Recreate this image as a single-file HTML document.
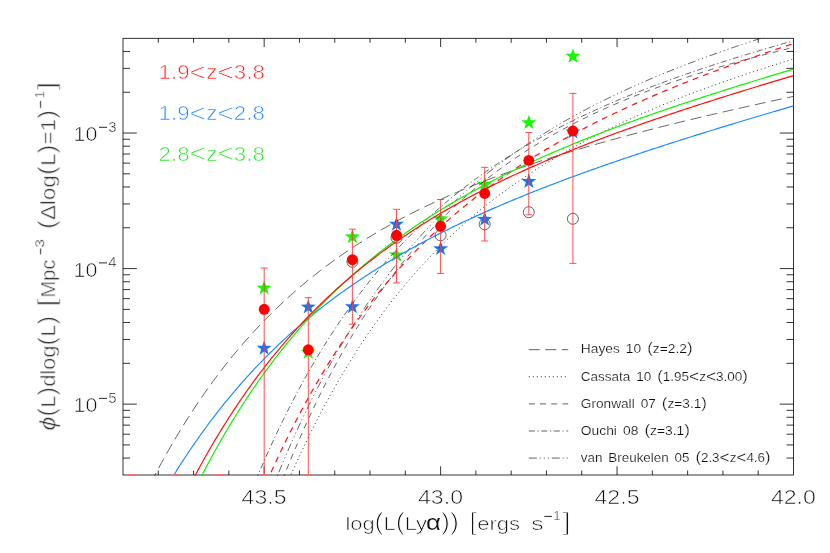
<!DOCTYPE html>
<html><head><meta charset="utf-8"><title>Lya LF</title><style>html,body{margin:0;padding:0;background:#fff}svg{display:block}text{font-family:"Liberation Sans",sans-serif}</style></head><body>
<svg width="830" height="553" viewBox="0 0 830 553">
<defs><clipPath id="c"><rect x="122.50" y="37.80" width="671.50" height="438.10"/></clipPath></defs>
<rect width="830" height="553" fill="#fff"/>
<rect x="123.00" y="38.30" width="670.50" height="436.70" fill="none" stroke="#000" stroke-width="0.8"/>
<path d="M158.29 475.00v-4.50M158.29 38.30v4.50M193.58 475.00v-4.50M193.58 38.30v4.50M228.87 475.00v-4.50M228.87 38.30v4.50M264.16 475.00v-8.70M264.16 38.30v8.70M299.45 475.00v-4.50M299.45 38.30v4.50M334.74 475.00v-4.50M334.74 38.30v4.50M370.03 475.00v-4.50M370.03 38.30v4.50M405.32 475.00v-4.50M405.32 38.30v4.50M440.61 475.00v-8.70M440.61 38.30v8.70M475.89 475.00v-4.50M475.89 38.30v4.50M511.18 475.00v-4.50M511.18 38.30v4.50M546.47 475.00v-4.50M546.47 38.30v4.50M581.76 475.00v-4.50M581.76 38.30v4.50M617.05 475.00v-8.70M617.05 38.30v8.70M652.34 475.00v-4.50M652.34 38.30v4.50M687.63 475.00v-4.50M687.63 38.30v4.50M722.92 475.00v-4.50M722.92 38.30v4.50M758.21 475.00v-4.50M758.21 38.30v4.50M123.00 458.07h7.00M793.50 458.07h-7.00M123.00 444.93h7.00M793.50 444.93h-7.00M123.00 434.20h7.00M793.50 434.20h-7.00M123.00 425.12h7.00M793.50 425.12h-7.00M123.00 417.26h7.00M793.50 417.26h-7.00M123.00 410.33h7.00M793.50 410.33h-7.00M123.00 404.13h13.80M793.50 404.13h-13.80M123.00 363.32h7.00M793.50 363.32h-7.00M123.00 339.46h7.00M793.50 339.46h-7.00M123.00 322.52h7.00M793.50 322.52h-7.00M123.00 309.39h7.00M793.50 309.39h-7.00M123.00 298.65h7.00M793.50 298.65h-7.00M123.00 289.58h7.00M793.50 289.58h-7.00M123.00 281.72h7.00M793.50 281.72h-7.00M123.00 274.79h7.00M793.50 274.79h-7.00M123.00 268.58h13.80M793.50 268.58h-13.80M123.00 227.78h7.00M793.50 227.78h-7.00M123.00 203.91h7.00M793.50 203.91h-7.00M123.00 186.98h7.00M793.50 186.98h-7.00M123.00 173.84h7.00M793.50 173.84h-7.00M123.00 163.11h7.00M793.50 163.11h-7.00M123.00 154.04h7.00M793.50 154.04h-7.00M123.00 146.18h7.00M793.50 146.18h-7.00M123.00 139.24h7.00M793.50 139.24h-7.00M123.00 133.04h13.80M793.50 133.04h-13.80M123.00 92.24h7.00M793.50 92.24h-7.00M123.00 68.37h7.00M793.50 68.37h-7.00M123.00 51.44h7.00M793.50 51.44h-7.00" stroke="#000" stroke-width="0.8" fill="none"/>
<g clip-path="url(#c)">
<circle cx="352.4" cy="261.8" r="5.5" fill="none" stroke="#222" stroke-width="0.7"/>
<circle cx="396.5" cy="237.8" r="5.5" fill="none" stroke="#222" stroke-width="0.7"/>
<circle cx="440.6" cy="235.4" r="5.5" fill="none" stroke="#222" stroke-width="0.7"/>
<circle cx="484.7" cy="224.3" r="5.5" fill="none" stroke="#222" stroke-width="0.7"/>
<circle cx="528.8" cy="212.2" r="5.5" fill="none" stroke="#222" stroke-width="0.7"/>
<circle cx="572.9" cy="218.8" r="5.5" fill="none" stroke="#222" stroke-width="0.7"/>
<polygon points="264.16,280.20 266.02,285.54 271.67,285.66 267.16,289.08 268.80,294.49 264.16,291.26 259.51,294.49 261.15,289.08 256.64,285.66 262.30,285.54" fill="#14f800"/>
<polygon points="308.27,344.40 310.13,349.74 315.78,349.86 311.28,353.28 312.91,358.69 308.27,355.46 303.63,358.69 305.26,353.28 300.76,349.86 306.41,349.74" fill="#14f800"/>
<polygon points="352.38,229.00 354.24,234.34 359.89,234.46 355.39,237.88 357.03,243.29 352.38,240.06 347.74,243.29 349.38,237.88 344.87,234.46 350.52,234.34" fill="#14f800"/>
<polygon points="396.49,247.10 398.35,252.44 404.01,252.56 399.50,255.98 401.14,261.39 396.49,258.16 391.85,261.39 393.49,255.98 388.98,252.56 394.64,252.44" fill="#14f800"/>
<polygon points="440.61,211.00 442.46,216.34 448.12,216.46 443.61,219.88 445.25,225.29 440.61,222.06 435.96,225.29 437.60,219.88 433.09,216.46 438.75,216.34" fill="#14f800"/>
<polygon points="484.72,176.30 486.57,181.64 492.23,181.76 487.72,185.18 489.36,190.59 484.72,187.36 480.07,190.59 481.71,185.18 477.20,181.76 482.86,181.64" fill="#14f800"/>
<polygon points="528.83,114.80 530.69,120.14 536.34,120.26 531.83,123.68 533.47,129.09 528.83,125.86 524.19,129.09 525.82,123.68 521.32,120.26 526.97,120.14" fill="#14f800"/>
<polygon points="572.94,48.40 574.80,53.74 580.45,53.86 575.95,57.28 577.58,62.69 572.94,59.46 568.30,62.69 569.94,57.28 565.43,53.86 571.08,53.74" fill="#14f800"/>
<polygon points="264.16,340.40 266.02,345.74 271.67,345.86 267.16,349.28 268.80,354.69 264.16,351.46 259.51,354.69 261.15,349.28 256.64,345.86 262.30,345.74" fill="#1478f5"/>
<polygon points="308.27,299.20 310.13,304.54 315.78,304.66 311.28,308.08 312.91,313.49 308.27,310.26 303.63,313.49 305.26,308.08 300.76,304.66 306.41,304.54" fill="#1478f5"/>
<polygon points="352.38,298.90 354.24,304.24 359.89,304.36 355.39,307.78 357.03,313.19 352.38,309.96 347.74,313.19 349.38,307.78 344.87,304.36 350.52,304.24" fill="#1478f5"/>
<polygon points="396.49,216.40 398.35,221.74 404.01,221.86 399.50,225.28 401.14,230.69 396.49,227.46 391.85,230.69 393.49,225.28 388.98,221.86 394.64,221.74" fill="#1478f5"/>
<polygon points="440.61,240.80 442.46,246.14 448.12,246.26 443.61,249.68 445.25,255.09 440.61,251.86 435.96,255.09 437.60,249.68 433.09,246.26 438.75,246.14" fill="#1478f5"/>
<polygon points="484.72,211.50 486.57,216.84 492.23,216.96 487.72,220.38 489.36,225.79 484.72,222.56 480.07,225.79 481.71,220.38 477.20,216.96 482.86,216.84" fill="#1478f5"/>
<polygon points="528.83,173.60 530.69,178.94 536.34,179.06 531.83,182.48 533.47,187.89 528.83,184.66 524.19,187.89 525.82,182.48 521.32,179.06 526.97,178.94" fill="#1478f5"/>
<polygon points="572.94,124.10 574.80,129.44 580.45,129.56 575.95,132.98 577.58,138.39 572.94,135.16 568.30,138.39 569.94,132.98 565.43,129.56 571.08,129.44" fill="#1478f5"/>
</g>
<g clip-path="url(#c)" fill="none">
<path d="M136.41 512.35 L138.09 508.81 L139.76 505.31 L141.44 501.84 L143.12 498.40 L144.79 495.00 L146.47 491.63 L148.14 488.30 L149.82 485.00 L151.50 481.73 L153.17 478.49 L154.85 475.28 L156.52 472.11 L158.20 468.97 L159.88 465.85 L161.55 462.77 L163.23 459.72 L164.91 456.70 L166.58 453.71 L168.26 450.74 L169.94 447.81 L171.61 444.90 L173.29 442.02 L174.96 439.17 L176.64 436.35 L178.32 433.56 L179.99 430.79 L181.67 428.05 L183.34 425.33 L185.02 422.64 L186.70 419.98 L188.37 417.34 L190.05 414.73 L191.73 412.14 L193.40 409.58 L195.08 407.04 L196.76 404.53 L198.43 402.04 L200.11 399.57 L201.78 397.13 L203.46 394.71 L205.14 392.31 L206.81 389.94 L208.49 387.58 L210.17 385.25 L211.84 382.95 L213.52 380.66 L215.19 378.39 L216.87 376.15 L218.55 373.93 L220.22 371.73 L221.90 369.54 L223.57 367.38 L225.25 365.24 L226.93 363.12 L228.60 361.02 L230.28 358.94 L231.96 356.87 L233.63 354.83 L235.31 352.81 L236.99 350.80 L238.66 348.81 L240.34 346.84 L242.01 344.89 L243.69 342.96 L245.37 341.04 L247.04 339.14 L248.72 337.26 L250.39 335.39 L252.07 333.55 L253.75 331.71 L255.42 329.90 L257.10 328.10 L258.78 326.32 L260.45 324.55 L262.13 322.80 L263.81 321.07 L265.48 319.35 L267.16 317.64 L268.83 315.95 L270.51 314.28 L272.19 312.62 L273.86 310.97 L275.54 309.34 L277.21 307.73 L278.89 306.13 L280.57 304.54 L282.24 302.96 L283.92 301.40 L285.60 299.86 L287.27 298.32 L288.95 296.80 L290.63 295.30 L292.30 293.80 L293.98 292.32 L295.65 290.85 L297.33 289.40 L299.01 287.95 L300.68 286.52 L302.36 285.10 L304.03 283.69 L305.71 282.30 L307.39 280.91 L309.06 279.54 L310.74 278.18 L312.42 276.83 L314.09 275.49 L315.77 274.17 L317.45 272.85 L319.12 271.55 L320.80 270.25 L322.47 268.97 L324.15 267.70 L325.83 266.43 L327.50 265.18 L329.18 263.94 L330.85 262.71 L332.53 261.49 L334.21 260.27 L335.88 259.07 L337.56 257.88 L339.24 256.69 L340.91 255.52 L342.59 254.36 L344.27 253.20 L345.94 252.06 L347.62 250.92 L349.29 249.79 L350.97 248.67 L352.65 247.56 L354.32 246.46 L356.00 245.37 L357.67 244.28 L359.35 243.20 L361.03 242.14 L362.70 241.08 L364.38 240.02 L366.06 238.98 L367.73 237.94 L369.41 236.92 L371.09 235.90 L372.76 234.88 L374.44 233.88 L376.11 232.88 L377.79 231.89 L379.47 230.91 L381.14 229.93 L382.82 228.96 L384.50 228.00 L386.17 227.05 L387.85 226.10 L389.52 225.16 L391.20 224.23 L392.88 223.30 L394.55 222.38 L396.23 221.46 L397.90 220.56 L399.58 219.66 L401.26 218.76 L402.93 217.87 L404.61 216.99 L406.29 216.12 L407.96 215.25 L409.64 214.38 L411.32 213.52 L412.99 212.67 L414.67 211.83 L416.34 210.99 L418.02 210.15 L419.70 209.32 L421.37 208.50 L423.05 207.68 L424.72 206.87 L426.40 206.06 L428.08 205.26 L429.75 204.47 L431.43 203.67 L433.11 202.89 L434.78 202.11 L436.46 201.33 L438.14 200.56 L439.81 199.80 L441.49 199.04 L443.16 198.28 L444.84 197.53 L446.52 196.78 L448.19 196.04 L449.87 195.30 L451.54 194.57 L453.22 193.84 L454.90 193.12 L456.57 192.40 L458.25 191.69 L459.93 190.98 L461.60 190.27 L463.28 189.57 L464.96 188.87 L466.63 188.18 L468.31 187.49 L469.98 186.80 L471.66 186.12 L473.34 185.44 L475.01 184.77 L476.69 184.10 L478.36 183.44 L480.04 182.77 L481.72 182.12 L483.39 181.46 L485.07 180.81 L486.75 180.16 L488.42 179.52 L490.10 178.88 L491.78 178.25 L493.45 177.61 L495.13 176.98 L496.80 176.36 L498.48 175.73 L500.16 175.12 L501.83 174.50 L503.51 173.89 L505.18 173.28 L506.86 172.67 L508.54 172.07 L510.21 171.47 L511.89 170.87 L513.57 170.28 L515.24 169.69 L516.92 169.10 L518.60 168.52 L520.27 167.93 L521.95 167.35 L523.62 166.78 L525.30 166.21 L526.98 165.64 L528.65 165.07 L530.33 164.50 L532.00 163.94 L533.68 163.38 L535.36 162.82 L537.03 162.27 L538.71 161.72 L540.39 161.17 L542.06 160.62 L543.74 160.08 L545.41 159.54 L547.09 159.00 L548.77 158.46 L550.44 157.93 L552.12 157.40 L553.80 156.87 L555.47 156.34 L557.15 155.81 L558.83 155.29 L560.50 154.77 L562.18 154.25 L563.85 153.74 L565.53 153.22 L567.21 152.71 L568.88 152.20 L570.56 151.70 L572.23 151.19 L573.91 150.69 L575.59 150.19 L577.26 149.69 L578.94 149.19 L580.62 148.69 L582.29 148.20 L583.97 147.71 L585.65 147.22 L587.32 146.73 L589.00 146.25 L590.67 145.76 L592.35 145.28 L594.03 144.80 L595.70 144.32 L597.38 143.85 L599.05 143.37 L600.73 142.90 L602.41 142.43 L604.08 141.96 L605.76 141.49 L607.44 141.02 L609.11 140.56 L610.79 140.10 L612.47 139.64 L614.14 139.18 L615.82 138.72 L617.49 138.26 L619.17 137.81 L620.85 137.35 L622.52 136.90 L624.20 136.45 L625.87 136.00 L627.55 135.55 L629.23 135.11 L630.90 134.66 L632.58 134.22 L634.26 133.78 L635.93 133.33 L637.61 132.90 L639.29 132.46 L640.96 132.02 L642.64 131.59 L644.31 131.15 L645.99 130.72 L647.67 130.29 L649.34 129.86 L651.02 129.43 L652.69 129.00 L654.37 128.57 L656.05 128.15 L657.72 127.72 L659.40 127.30 L661.08 126.88 L662.75 126.46 L664.43 126.04 L666.11 125.62 L667.78 125.20 L669.46 124.79 L671.13 124.37 L672.81 123.96 L674.49 123.55 L676.16 123.13 L677.84 122.72 L679.51 122.31 L681.19 121.91 L682.87 121.50 L684.54 121.09 L686.22 120.69 L687.90 120.28 L689.57 119.88 L691.25 119.47 L692.93 119.07 L694.60 118.67 L696.28 118.27 L697.95 117.87 L699.63 117.47 L701.31 117.08 L702.98 116.68 L704.66 116.29 L706.34 115.89 L708.01 115.50 L709.69 115.10 L711.36 114.71 L713.04 114.32 L714.72 113.93 L716.39 113.54 L718.07 113.15 L719.74 112.76 L721.42 112.38 L723.10 111.99 L724.77 111.61 L726.45 111.22 L728.13 110.84 L729.80 110.45 L731.48 110.07 L733.16 109.69 L734.83 109.31 L736.51 108.93 L738.18 108.55 L739.86 108.17 L741.54 107.79 L743.21 107.41 L744.89 107.04 L746.56 106.66 L748.24 106.28 L749.92 105.91 L751.59 105.53 L753.27 105.16 L754.95 104.79 L756.62 104.42 L758.30 104.04 L759.98 103.67 L761.65 103.30 L763.33 102.93 L765.00 102.56 L766.68 102.19 L768.36 101.82 L770.03 101.46 L771.71 101.09 L773.38 100.72 L775.06 100.36 L776.74 99.99 L778.41 99.63 L780.09 99.26 L781.77 98.90 L783.44 98.54 L785.12 98.17 L786.80 97.81 L788.47 97.45 L790.15 97.09 L791.82 96.73 L793.50 96.37 " stroke="#202020" stroke-width="0.7" stroke-dasharray="11 5.5"/>
<path d="M275.54 511.41 L277.21 507.28 L278.89 503.18 L280.57 499.12 L282.24 495.11 L283.92 491.13 L285.60 487.19 L287.27 483.29 L288.95 479.43 L290.63 475.61 L292.30 471.83 L293.98 468.08 L295.65 464.36 L297.33 460.69 L299.01 457.05 L300.68 453.44 L302.36 449.87 L304.03 446.34 L305.71 442.84 L307.39 439.37 L309.06 435.94 L310.74 432.54 L312.42 429.17 L314.09 425.83 L315.77 422.53 L317.45 419.26 L319.12 416.02 L320.80 412.81 L322.47 409.63 L324.15 406.49 L325.83 403.37 L327.50 400.28 L329.18 397.22 L330.85 394.19 L332.53 391.19 L334.21 388.22 L335.88 385.27 L337.56 382.36 L339.24 379.47 L340.91 376.61 L342.59 373.77 L344.27 370.96 L345.94 368.18 L347.62 365.43 L349.29 362.70 L350.97 359.99 L352.65 357.31 L354.32 354.66 L356.00 352.03 L357.67 349.42 L359.35 346.84 L361.03 344.28 L362.70 341.75 L364.38 339.24 L366.06 336.75 L367.73 334.29 L369.41 331.85 L371.09 329.43 L372.76 327.03 L374.44 324.66 L376.11 322.30 L377.79 319.97 L379.47 317.66 L381.14 315.37 L382.82 313.10 L384.50 310.85 L386.17 308.62 L387.85 306.41 L389.52 304.22 L391.20 302.05 L392.88 299.90 L394.55 297.77 L396.23 295.66 L397.90 293.57 L399.58 291.49 L401.26 289.44 L402.93 287.40 L404.61 285.38 L406.29 283.38 L407.96 281.39 L409.64 279.43 L411.32 277.48 L412.99 275.54 L414.67 273.63 L416.34 271.73 L418.02 269.84 L419.70 267.98 L421.37 266.13 L423.05 264.29 L424.72 262.47 L426.40 260.67 L428.08 258.88 L429.75 257.11 L431.43 255.35 L433.11 253.61 L434.78 251.88 L436.46 250.17 L438.14 248.47 L439.81 246.78 L441.49 245.11 L443.16 243.46 L444.84 241.81 L446.52 240.19 L448.19 238.57 L449.87 236.97 L451.54 235.38 L453.22 233.80 L454.90 232.24 L456.57 230.69 L458.25 229.15 L459.93 227.63 L461.60 226.11 L463.28 224.61 L464.96 223.13 L466.63 221.65 L468.31 220.19 L469.98 218.73 L471.66 217.29 L473.34 215.86 L475.01 214.44 L476.69 213.04 L478.36 211.64 L480.04 210.26 L481.72 208.88 L483.39 207.52 L485.07 206.17 L486.75 204.82 L488.42 203.49 L490.10 202.17 L491.78 200.86 L493.45 199.56 L495.13 198.27 L496.80 196.99 L498.48 195.71 L500.16 194.45 L501.83 193.20 L503.51 191.96 L505.18 190.72 L506.86 189.50 L508.54 188.28 L510.21 187.08 L511.89 185.88 L513.57 184.69 L515.24 183.51 L516.92 182.34 L518.60 181.17 L520.27 180.02 L521.95 178.87 L523.62 177.74 L525.30 176.61 L526.98 175.49 L528.65 174.37 L530.33 173.27 L532.00 172.17 L533.68 171.08 L535.36 170.00 L537.03 168.92 L538.71 167.85 L540.39 166.79 L542.06 165.74 L543.74 164.70 L545.41 163.66 L547.09 162.63 L548.77 161.60 L550.44 160.59 L552.12 159.58 L553.80 158.57 L555.47 157.58 L557.15 156.59 L558.83 155.60 L560.50 154.63 L562.18 153.65 L563.85 152.69 L565.53 151.73 L567.21 150.78 L568.88 149.83 L570.56 148.90 L572.23 147.96 L573.91 147.03 L575.59 146.11 L577.26 145.20 L578.94 144.29 L580.62 143.38 L582.29 142.48 L583.97 141.59 L585.65 140.70 L587.32 139.82 L589.00 138.94 L590.67 138.07 L592.35 137.21 L594.03 136.35 L595.70 135.49 L597.38 134.64 L599.05 133.79 L600.73 132.95 L602.41 132.12 L604.08 131.29 L605.76 130.46 L607.44 129.64 L609.11 128.82 L610.79 128.01 L612.47 127.20 L614.14 126.40 L615.82 125.60 L617.49 124.81 L619.17 124.02 L620.85 123.23 L622.52 122.45 L624.20 121.68 L625.87 120.91 L627.55 120.14 L629.23 119.38 L630.90 118.62 L632.58 117.86 L634.26 117.11 L635.93 116.36 L637.61 115.62 L639.29 114.88 L640.96 114.14 L642.64 113.41 L644.31 112.68 L645.99 111.96 L647.67 111.24 L649.34 110.52 L651.02 109.81 L652.69 109.10 L654.37 108.39 L656.05 107.69 L657.72 106.99 L659.40 106.29 L661.08 105.60 L662.75 104.91 L664.43 104.22 L666.11 103.54 L667.78 102.86 L669.46 102.18 L671.13 101.51 L672.81 100.84 L674.49 100.17 L676.16 99.51 L677.84 98.85 L679.51 98.19 L681.19 97.54 L682.87 96.88 L684.54 96.23 L686.22 95.59 L687.90 94.94 L689.57 94.30 L691.25 93.66 L692.93 93.03 L694.60 92.40 L696.28 91.77 L697.95 91.14 L699.63 90.52 L701.31 89.89 L702.98 89.27 L704.66 88.66 L706.34 88.04 L708.01 87.43 L709.69 86.82 L711.36 86.21 L713.04 85.61 L714.72 85.01 L716.39 84.41 L718.07 83.81 L719.74 83.21 L721.42 82.62 L723.10 82.03 L724.77 81.44 L726.45 80.86 L728.13 80.27 L729.80 79.69 L731.48 79.11 L733.16 78.53 L734.83 77.96 L736.51 77.38 L738.18 76.81 L739.86 76.24 L741.54 75.67 L743.21 75.11 L744.89 74.54 L746.56 73.98 L748.24 73.42 L749.92 72.86 L751.59 72.31 L753.27 71.75 L754.95 71.20 L756.62 70.65 L758.30 70.10 L759.98 69.56 L761.65 69.01 L763.33 68.47 L765.00 67.92 L766.68 67.38 L768.36 66.85 L770.03 66.31 L771.71 65.77 L773.38 65.24 L775.06 64.71 L776.74 64.18 L778.41 63.65 L780.09 63.12 L781.77 62.60 L783.44 62.07 L785.12 61.55 L786.80 61.03 L788.47 60.51 L790.15 59.99 L791.82 59.47 L793.50 58.96 " stroke="#202020" stroke-width="0.95" stroke-dasharray="1 3"/>
<path d="M270.51 511.43 L272.19 506.88 L273.86 502.37 L275.54 497.90 L277.21 493.49 L278.89 489.11 L280.57 484.79 L282.24 480.50 L283.92 476.26 L285.60 472.07 L287.27 467.91 L288.95 463.80 L290.63 459.73 L292.30 455.70 L293.98 451.72 L295.65 447.77 L297.33 443.86 L299.01 440.00 L300.68 436.17 L302.36 432.38 L304.03 428.63 L305.71 424.92 L307.39 421.24 L309.06 417.60 L310.74 414.00 L312.42 410.43 L314.09 406.91 L315.77 403.41 L317.45 399.95 L319.12 396.53 L320.80 393.14 L322.47 389.78 L324.15 386.46 L325.83 383.17 L327.50 379.92 L329.18 376.69 L330.85 373.50 L332.53 370.34 L334.21 367.22 L335.88 364.12 L337.56 361.05 L339.24 358.02 L340.91 355.01 L342.59 352.04 L344.27 349.09 L345.94 346.17 L347.62 343.29 L349.29 340.43 L350.97 337.60 L352.65 334.79 L354.32 332.02 L356.00 329.27 L357.67 326.55 L359.35 323.85 L361.03 321.18 L362.70 318.54 L364.38 315.93 L366.06 313.34 L367.73 310.77 L369.41 308.23 L371.09 305.72 L372.76 303.22 L374.44 300.76 L376.11 298.31 L377.79 295.90 L379.47 293.50 L381.14 291.13 L382.82 288.78 L384.50 286.45 L386.17 284.15 L387.85 281.86 L389.52 279.60 L391.20 277.37 L392.88 275.15 L394.55 272.95 L396.23 270.78 L397.90 268.62 L399.58 266.49 L401.26 264.38 L402.93 262.28 L404.61 260.21 L406.29 258.16 L407.96 256.12 L409.64 254.11 L411.32 252.11 L412.99 250.13 L414.67 248.18 L416.34 246.24 L418.02 244.31 L419.70 242.41 L421.37 240.52 L423.05 238.66 L424.72 236.81 L426.40 234.97 L428.08 233.16 L429.75 231.36 L431.43 229.57 L433.11 227.81 L434.78 226.06 L436.46 224.32 L438.14 222.61 L439.81 220.90 L441.49 219.22 L443.16 217.55 L444.84 215.89 L446.52 214.25 L448.19 212.62 L449.87 211.01 L451.54 209.42 L453.22 207.84 L454.90 206.27 L456.57 204.71 L458.25 203.18 L459.93 201.65 L461.60 200.14 L463.28 198.64 L464.96 197.16 L466.63 195.68 L468.31 194.23 L469.98 192.78 L471.66 191.35 L473.34 189.93 L475.01 188.52 L476.69 187.13 L478.36 185.75 L480.04 184.38 L481.72 183.02 L483.39 181.67 L485.07 180.34 L486.75 179.01 L488.42 177.70 L490.10 176.40 L491.78 175.11 L493.45 173.84 L495.13 172.57 L496.80 171.31 L498.48 170.07 L500.16 168.83 L501.83 167.61 L503.51 166.40 L505.18 165.19 L506.86 164.00 L508.54 162.82 L510.21 161.65 L511.89 160.48 L513.57 159.33 L515.24 158.19 L516.92 157.05 L518.60 155.93 L520.27 154.81 L521.95 153.71 L523.62 152.61 L525.30 151.52 L526.98 150.45 L528.65 149.38 L530.33 148.32 L532.00 147.26 L533.68 146.22 L535.36 145.18 L537.03 144.16 L538.71 143.14 L540.39 142.13 L542.06 141.13 L543.74 140.13 L545.41 139.15 L547.09 138.17 L548.77 137.20 L550.44 136.23 L552.12 135.28 L553.80 134.33 L555.47 133.39 L557.15 132.46 L558.83 131.53 L560.50 130.61 L562.18 129.70 L563.85 128.80 L565.53 127.90 L567.21 127.01 L568.88 126.12 L570.56 125.25 L572.23 124.38 L573.91 123.51 L575.59 122.66 L577.26 121.80 L578.94 120.96 L580.62 120.12 L582.29 119.29 L583.97 118.46 L585.65 117.64 L587.32 116.83 L589.00 116.02 L590.67 115.22 L592.35 114.43 L594.03 113.63 L595.70 112.85 L597.38 112.07 L599.05 111.30 L600.73 110.53 L602.41 109.77 L604.08 109.01 L605.76 108.26 L607.44 107.51 L609.11 106.77 L610.79 106.04 L612.47 105.31 L614.14 104.58 L615.82 103.86 L617.49 103.15 L619.17 102.44 L620.85 101.73 L622.52 101.03 L624.20 100.33 L625.87 99.64 L627.55 98.95 L629.23 98.27 L630.90 97.59 L632.58 96.92 L634.26 96.25 L635.93 95.59 L637.61 94.93 L639.29 94.27 L640.96 93.62 L642.64 92.97 L644.31 92.33 L645.99 91.69 L647.67 91.06 L649.34 90.42 L651.02 89.80 L652.69 89.17 L654.37 88.56 L656.05 87.94 L657.72 87.33 L659.40 86.72 L661.08 86.12 L662.75 85.52 L664.43 84.92 L666.11 84.33 L667.78 83.74 L669.46 83.15 L671.13 82.57 L672.81 81.99 L674.49 81.42 L676.16 80.84 L677.84 80.27 L679.51 79.71 L681.19 79.15 L682.87 78.59 L684.54 78.03 L686.22 77.48 L687.90 76.93 L689.57 76.38 L691.25 75.84 L692.93 75.30 L694.60 74.76 L696.28 74.23 L697.95 73.70 L699.63 73.17 L701.31 72.64 L702.98 72.12 L704.66 71.60 L706.34 71.08 L708.01 70.57 L709.69 70.06 L711.36 69.55 L713.04 69.04 L714.72 68.54 L716.39 68.04 L718.07 67.54 L719.74 67.04 L721.42 66.55 L723.10 66.06 L724.77 65.57 L726.45 65.08 L728.13 64.60 L729.80 64.12 L731.48 63.64 L733.16 63.16 L734.83 62.69 L736.51 62.22 L738.18 61.75 L739.86 61.28 L741.54 60.81 L743.21 60.35 L744.89 59.89 L746.56 59.43 L748.24 58.97 L749.92 58.52 L751.59 58.07 L753.27 57.62 L754.95 57.17 L756.62 56.72 L758.30 56.28 L759.98 55.83 L761.65 55.39 L763.33 54.95 L765.00 54.52 L766.68 54.08 L768.36 53.65 L770.03 53.22 L771.71 52.79 L773.38 52.36 L775.06 51.94 L776.74 51.51 L778.41 51.09 L780.09 50.67 L781.77 50.25 L783.44 49.83 L785.12 49.42 L786.80 49.00 L788.47 48.59 L790.15 48.18 L791.82 47.77 L793.50 47.36 " stroke="#202020" stroke-width="0.7" stroke-dasharray="6 5.2"/>
<path d="M242.01 514.64 L243.69 510.31 L245.37 506.03 L247.04 501.79 L248.72 497.59 L250.39 493.43 L252.07 489.32 L253.75 485.24 L255.42 481.21 L257.10 477.22 L258.78 473.26 L260.45 469.35 L262.13 465.47 L263.81 461.63 L265.48 457.83 L267.16 454.07 L268.83 450.34 L270.51 446.65 L272.19 443.00 L273.86 439.38 L275.54 435.80 L277.21 432.25 L278.89 428.74 L280.57 425.26 L282.24 421.82 L283.92 418.40 L285.60 415.03 L287.27 411.68 L288.95 408.37 L290.63 405.09 L292.30 401.84 L293.98 398.62 L295.65 395.44 L297.33 392.28 L299.01 389.15 L300.68 386.06 L302.36 382.99 L304.03 379.96 L305.71 376.95 L307.39 373.97 L309.06 371.02 L310.74 368.10 L312.42 365.21 L314.09 362.34 L315.77 359.50 L317.45 356.69 L319.12 353.90 L320.80 351.14 L322.47 348.41 L324.15 345.70 L325.83 343.02 L327.50 340.36 L329.18 337.73 L330.85 335.13 L332.53 332.54 L334.21 329.98 L335.88 327.45 L337.56 324.94 L339.24 322.45 L340.91 319.99 L342.59 317.54 L344.27 315.12 L345.94 312.73 L347.62 310.35 L349.29 308.00 L350.97 305.67 L352.65 303.36 L354.32 301.07 L356.00 298.80 L357.67 296.56 L359.35 294.33 L361.03 292.12 L362.70 289.94 L364.38 287.77 L366.06 285.62 L367.73 283.50 L369.41 281.39 L371.09 279.30 L372.76 277.23 L374.44 275.18 L376.11 273.14 L377.79 271.13 L379.47 269.13 L381.14 267.15 L382.82 265.19 L384.50 263.25 L386.17 261.32 L387.85 259.41 L389.52 257.51 L391.20 255.64 L392.88 253.78 L394.55 251.93 L396.23 250.11 L397.90 248.29 L399.58 246.50 L401.26 244.72 L402.93 242.95 L404.61 241.20 L406.29 239.47 L407.96 237.75 L409.64 236.04 L411.32 234.35 L412.99 232.67 L414.67 231.01 L416.34 229.36 L418.02 227.73 L419.70 226.11 L421.37 224.50 L423.05 222.91 L424.72 221.33 L426.40 219.76 L428.08 218.21 L429.75 216.67 L431.43 215.14 L433.11 213.63 L434.78 212.13 L436.46 210.64 L438.14 209.16 L439.81 207.69 L441.49 206.24 L443.16 204.80 L444.84 203.37 L446.52 201.95 L448.19 200.54 L449.87 199.15 L451.54 197.76 L453.22 196.39 L454.90 195.03 L456.57 193.68 L458.25 192.33 L459.93 191.00 L461.60 189.68 L463.28 188.38 L464.96 187.08 L466.63 185.79 L468.31 184.51 L469.98 183.24 L471.66 181.98 L473.34 180.73 L475.01 179.49 L476.69 178.26 L478.36 177.04 L480.04 175.83 L481.72 174.63 L483.39 173.44 L485.07 172.25 L486.75 171.08 L488.42 169.91 L490.10 168.76 L491.78 167.61 L493.45 166.47 L495.13 165.34 L496.80 164.21 L498.48 163.10 L500.16 161.99 L501.83 160.89 L503.51 159.80 L505.18 158.72 L506.86 157.64 L508.54 156.58 L510.21 155.52 L511.89 154.46 L513.57 153.42 L515.24 152.38 L516.92 151.35 L518.60 150.33 L520.27 149.31 L521.95 148.31 L523.62 147.30 L525.30 146.31 L526.98 145.32 L528.65 144.34 L530.33 143.37 L532.00 142.40 L533.68 141.44 L535.36 140.49 L537.03 139.54 L538.71 138.60 L540.39 137.66 L542.06 136.73 L543.74 135.81 L545.41 134.89 L547.09 133.98 L548.77 133.08 L550.44 132.18 L552.12 131.28 L553.80 130.40 L555.47 129.52 L557.15 128.64 L558.83 127.77 L560.50 126.90 L562.18 126.04 L563.85 125.19 L565.53 124.34 L567.21 123.50 L568.88 122.66 L570.56 121.83 L572.23 121.00 L573.91 120.18 L575.59 119.36 L577.26 118.55 L578.94 117.74 L580.62 116.93 L582.29 116.14 L583.97 115.34 L585.65 114.55 L587.32 113.77 L589.00 112.99 L590.67 112.21 L592.35 111.44 L594.03 110.68 L595.70 109.91 L597.38 109.16 L599.05 108.40 L600.73 107.65 L602.41 106.91 L604.08 106.17 L605.76 105.43 L607.44 104.70 L609.11 103.97 L610.79 103.25 L612.47 102.52 L614.14 101.81 L615.82 101.09 L617.49 100.39 L619.17 99.68 L620.85 98.98 L622.52 98.28 L624.20 97.59 L625.87 96.89 L627.55 96.21 L629.23 95.52 L630.90 94.84 L632.58 94.17 L634.26 93.49 L635.93 92.82 L637.61 92.16 L639.29 91.49 L640.96 90.83 L642.64 90.18 L644.31 89.52 L645.99 88.87 L647.67 88.22 L649.34 87.58 L651.02 86.94 L652.69 86.30 L654.37 85.67 L656.05 85.03 L657.72 84.40 L659.40 83.78 L661.08 83.15 L662.75 82.53 L664.43 81.91 L666.11 81.30 L667.78 80.69 L669.46 80.08 L671.13 79.47 L672.81 78.87 L674.49 78.26 L676.16 77.66 L677.84 77.07 L679.51 76.47 L681.19 75.88 L682.87 75.29 L684.54 74.71 L686.22 74.12 L687.90 73.54 L689.57 72.96 L691.25 72.38 L692.93 71.81 L694.60 71.24 L696.28 70.67 L697.95 70.10 L699.63 69.53 L701.31 68.97 L702.98 68.41 L704.66 67.85 L706.34 67.29 L708.01 66.74 L709.69 66.18 L711.36 65.63 L713.04 65.08 L714.72 64.54 L716.39 63.99 L718.07 63.45 L719.74 62.91 L721.42 62.37 L723.10 61.83 L724.77 61.30 L726.45 60.76 L728.13 60.23 L729.80 59.70 L731.48 59.17 L733.16 58.65 L734.83 58.12 L736.51 57.60 L738.18 57.08 L739.86 56.56 L741.54 56.04 L743.21 55.53 L744.89 55.01 L746.56 54.50 L748.24 53.99 L749.92 53.48 L751.59 52.97 L753.27 52.47 L754.95 51.96 L756.62 51.46 L758.30 50.96 L759.98 50.46 L761.65 49.96 L763.33 49.46 L765.00 48.97 L766.68 48.47 L768.36 47.98 L770.03 47.49 L771.71 47.00 L773.38 46.51 L775.06 46.02 L776.74 45.54 L778.41 45.05 L780.09 44.57 L781.77 44.09 L783.44 43.61 L785.12 43.13 L786.80 42.65 L788.47 42.17 L790.15 41.70 L791.82 41.22 L793.50 40.75 " stroke="#202020" stroke-width="0.7" stroke-dasharray="6 2.7 1.2 2.6"/>
<path d="M262.13 515.00 L263.81 510.52 L265.48 506.08 L267.16 501.69 L268.83 497.34 L270.51 493.04 L272.19 488.77 L273.86 484.55 L275.54 480.38 L277.21 476.24 L278.89 472.14 L280.57 468.09 L282.24 464.07 L283.92 460.09 L285.60 456.15 L287.27 452.26 L288.95 448.39 L290.63 444.57 L292.30 440.79 L293.98 437.04 L295.65 433.33 L297.33 429.65 L299.01 426.01 L300.68 422.40 L302.36 418.83 L304.03 415.30 L305.71 411.80 L307.39 408.33 L309.06 404.90 L310.74 401.50 L312.42 398.13 L314.09 394.79 L315.77 391.49 L317.45 388.22 L319.12 384.98 L320.80 381.77 L322.47 378.59 L324.15 375.45 L325.83 372.33 L327.50 369.24 L329.18 366.18 L330.85 363.15 L332.53 360.15 L334.21 357.18 L335.88 354.23 L337.56 351.32 L339.24 348.43 L340.91 345.57 L342.59 342.73 L344.27 339.92 L345.94 337.14 L347.62 334.39 L349.29 331.66 L350.97 328.95 L352.65 326.27 L354.32 323.62 L356.00 320.99 L357.67 318.38 L359.35 315.80 L361.03 313.25 L362.70 310.71 L364.38 308.20 L366.06 305.71 L367.73 303.25 L369.41 300.81 L371.09 298.39 L372.76 295.99 L374.44 293.62 L376.11 291.26 L377.79 288.93 L379.47 286.62 L381.14 284.33 L382.82 282.06 L384.50 279.81 L386.17 277.58 L387.85 275.37 L389.52 273.18 L391.20 271.01 L392.88 268.86 L394.55 266.73 L396.23 264.62 L397.90 262.53 L399.58 260.45 L401.26 258.40 L402.93 256.36 L404.61 254.34 L406.29 252.34 L407.96 250.35 L409.64 248.39 L411.32 246.44 L412.99 244.50 L414.67 242.59 L416.34 240.69 L418.02 238.81 L419.70 236.94 L421.37 235.09 L423.05 233.25 L424.72 231.43 L426.40 229.63 L428.08 227.84 L429.75 226.07 L431.43 224.31 L433.11 222.57 L434.78 220.84 L436.46 219.13 L438.14 217.43 L439.81 215.74 L441.49 214.07 L443.16 212.42 L444.84 210.77 L446.52 209.15 L448.19 207.53 L449.87 205.93 L451.54 204.34 L453.22 202.76 L454.90 201.20 L456.57 199.65 L458.25 198.11 L459.93 196.59 L461.60 195.07 L463.28 193.57 L464.96 192.09 L466.63 190.61 L468.31 189.15 L469.98 187.69 L471.66 186.25 L473.34 184.82 L475.01 183.40 L476.69 182.00 L478.36 180.60 L480.04 179.22 L481.72 177.84 L483.39 176.48 L485.07 175.13 L486.75 173.78 L488.42 172.45 L490.10 171.13 L491.78 169.82 L493.45 168.52 L495.13 167.23 L496.80 165.95 L498.48 164.67 L500.16 163.41 L501.83 162.16 L503.51 160.92 L505.18 159.68 L506.86 158.46 L508.54 157.24 L510.21 156.04 L511.89 154.84 L513.57 153.65 L515.24 152.47 L516.92 151.30 L518.60 150.14 L520.27 148.98 L521.95 147.84 L523.62 146.70 L525.30 145.57 L526.98 144.45 L528.65 143.33 L530.33 142.23 L532.00 141.13 L533.68 140.04 L535.36 138.96 L537.03 137.88 L538.71 136.81 L540.39 135.76 L542.06 134.70 L543.74 133.66 L545.41 132.62 L547.09 131.59 L548.77 130.56 L550.44 129.55 L552.12 128.54 L553.80 127.53 L555.47 126.54 L557.15 125.55 L558.83 124.56 L560.50 123.59 L562.18 122.62 L563.85 121.65 L565.53 120.69 L567.21 119.74 L568.88 118.80 L570.56 117.86 L572.23 116.92 L573.91 115.99 L575.59 115.07 L577.26 114.16 L578.94 113.25 L580.62 112.34 L582.29 111.44 L583.97 110.55 L585.65 109.66 L587.32 108.78 L589.00 107.90 L590.67 107.03 L592.35 106.17 L594.03 105.31 L595.70 104.45 L597.38 103.60 L599.05 102.75 L600.73 101.91 L602.41 101.08 L604.08 100.25 L605.76 99.42 L607.44 98.60 L609.11 97.78 L610.79 96.97 L612.47 96.16 L614.14 95.36 L615.82 94.56 L617.49 93.77 L619.17 92.98 L620.85 92.20 L622.52 91.42 L624.20 90.64 L625.87 89.87 L627.55 89.10 L629.23 88.34 L630.90 87.58 L632.58 86.82 L634.26 86.07 L635.93 85.32 L637.61 84.58 L639.29 83.84 L640.96 83.10 L642.64 82.37 L644.31 81.64 L645.99 80.92 L647.67 80.20 L649.34 79.48 L651.02 78.77 L652.69 78.06 L654.37 77.35 L656.05 76.65 L657.72 75.95 L659.40 75.25 L661.08 74.56 L662.75 73.87 L664.43 73.18 L666.11 72.50 L667.78 71.82 L669.46 71.14 L671.13 70.47 L672.81 69.80 L674.49 69.13 L676.16 68.47 L677.84 67.81 L679.51 67.15 L681.19 66.50 L682.87 65.84 L684.54 65.19 L686.22 64.55 L687.90 63.90 L689.57 63.26 L691.25 62.63 L692.93 61.99 L694.60 61.36 L696.28 60.73 L697.95 60.10 L699.63 59.48 L701.31 58.85 L702.98 58.23 L704.66 57.62 L706.34 57.00 L708.01 56.39 L709.69 55.78 L711.36 55.17 L713.04 54.57 L714.72 53.97 L716.39 53.37 L718.07 52.77 L719.74 52.18 L721.42 51.58 L723.10 50.99 L724.77 50.40 L726.45 49.82 L728.13 49.23 L729.80 48.65 L731.48 48.07 L733.16 47.49 L734.83 46.92 L736.51 46.34 L738.18 45.77 L739.86 45.20 L741.54 44.63 L743.21 44.07 L744.89 43.50 L746.56 42.94 L748.24 42.38 L749.92 41.83 L751.59 41.27 L753.27 40.72 L754.95 40.16 L756.62 39.61 L758.30 39.06 L759.98 38.52 L761.65 37.97 L763.33 37.43 L765.00 36.89 L766.68 36.35 L768.36 35.81 L770.03 35.27 L771.71 34.73 L773.38 34.20 L775.06 33.67 L776.74 33.14 L778.41 32.61 L780.09 32.08 L781.77 31.56 L783.44 31.03 L785.12 30.51 L786.80 29.99 L788.47 29.47 L790.15 28.95 L791.82 28.43 L793.50 27.92 " stroke="#202020" stroke-width="0.7" stroke-dasharray="8 2.8 1.2 2.9 1.2 2.9 1.2 2.8"/>
<path d="M253.75 512.70 L255.42 508.61 L257.10 504.56 L258.78 500.55 L260.45 496.58 L262.13 492.65 L263.81 488.75 L265.48 484.89 L267.16 481.07 L268.83 477.29 L270.51 473.54 L272.19 469.83 L273.86 466.15 L275.54 462.51 L277.21 458.90 L278.89 455.33 L280.57 451.79 L282.24 448.28 L283.92 444.81 L285.60 441.37 L287.27 437.97 L288.95 434.59 L290.63 431.25 L292.30 427.94 L293.98 424.66 L295.65 421.41 L297.33 418.19 L299.01 415.00 L300.68 411.85 L302.36 408.72 L304.03 405.62 L305.71 402.55 L307.39 399.50 L309.06 396.49 L310.74 393.50 L312.42 390.54 L314.09 387.61 L315.77 384.71 L317.45 381.83 L319.12 378.98 L320.80 376.15 L322.47 373.35 L324.15 370.58 L325.83 367.83 L327.50 365.11 L329.18 362.41 L330.85 359.74 L332.53 357.09 L334.21 354.46 L335.88 351.86 L337.56 349.28 L339.24 346.72 L340.91 344.19 L342.59 341.68 L344.27 339.19 L345.94 336.73 L347.62 334.28 L349.29 331.86 L350.97 329.46 L352.65 327.08 L354.32 324.72 L356.00 322.39 L357.67 320.07 L359.35 317.77 L361.03 315.50 L362.70 313.24 L364.38 311.00 L366.06 308.79 L367.73 306.59 L369.41 304.41 L371.09 302.25 L372.76 300.11 L374.44 297.98 L376.11 295.88 L377.79 293.79 L379.47 291.72 L381.14 289.67 L382.82 287.64 L384.50 285.62 L386.17 283.62 L387.85 281.64 L389.52 279.67 L391.20 277.72 L392.88 275.79 L394.55 273.87 L396.23 271.97 L397.90 270.09 L399.58 268.22 L401.26 266.36 L402.93 264.52 L404.61 262.70 L406.29 260.89 L407.96 259.10 L409.64 257.32 L411.32 255.55 L412.99 253.80 L414.67 252.07 L416.34 250.34 L418.02 248.63 L419.70 246.94 L421.37 245.26 L423.05 243.59 L424.72 241.94 L426.40 240.29 L428.08 238.67 L429.75 237.05 L431.43 235.45 L433.11 233.86 L434.78 232.28 L436.46 230.71 L438.14 229.16 L439.81 227.62 L441.49 226.09 L443.16 224.57 L444.84 223.06 L446.52 221.57 L448.19 220.09 L449.87 218.61 L451.54 217.15 L453.22 215.70 L454.90 214.26 L456.57 212.84 L458.25 211.42 L459.93 210.01 L461.60 208.62 L463.28 207.23 L464.96 205.85 L466.63 204.49 L468.31 203.13 L469.98 201.78 L471.66 200.45 L473.34 199.12 L475.01 197.80 L476.69 196.50 L478.36 195.20 L480.04 193.91 L481.72 192.63 L483.39 191.36 L485.07 190.10 L486.75 188.84 L488.42 187.60 L490.10 186.36 L491.78 185.14 L493.45 183.92 L495.13 182.71 L496.80 181.51 L498.48 180.31 L500.16 179.13 L501.83 177.95 L503.51 176.78 L505.18 175.62 L506.86 174.46 L508.54 173.32 L510.21 172.18 L511.89 171.05 L513.57 169.92 L515.24 168.81 L516.92 167.70 L518.60 166.60 L520.27 165.50 L521.95 164.41 L523.62 163.33 L525.30 162.26 L526.98 161.19 L528.65 160.13 L530.33 159.08 L532.00 158.03 L533.68 156.99 L535.36 155.95 L537.03 154.93 L538.71 153.91 L540.39 152.89 L542.06 151.88 L543.74 150.88 L545.41 149.88 L547.09 148.89 L548.77 147.90 L550.44 146.93 L552.12 145.95 L553.80 144.98 L555.47 144.02 L557.15 143.07 L558.83 142.11 L560.50 141.17 L562.18 140.23 L563.85 139.29 L565.53 138.36 L567.21 137.44 L568.88 136.52 L570.56 135.61 L572.23 134.70 L573.91 133.79 L575.59 132.90 L577.26 132.00 L578.94 131.11 L580.62 130.23 L582.29 129.35 L583.97 128.47 L585.65 127.60 L587.32 126.74 L589.00 125.88 L590.67 125.02 L592.35 124.17 L594.03 123.32 L595.70 122.48 L597.38 121.64 L599.05 120.80 L600.73 119.97 L602.41 119.15 L604.08 118.32 L605.76 117.50 L607.44 116.69 L609.11 115.88 L610.79 115.07 L612.47 114.27 L614.14 113.47 L615.82 112.68 L617.49 111.89 L619.17 111.10 L620.85 110.32 L622.52 109.54 L624.20 108.76 L625.87 107.99 L627.55 107.22 L629.23 106.45 L630.90 105.69 L632.58 104.93 L634.26 104.17 L635.93 103.42 L637.61 102.67 L639.29 101.93 L640.96 101.19 L642.64 100.45 L644.31 99.71 L645.99 98.98 L647.67 98.25 L649.34 97.52 L651.02 96.80 L652.69 96.08 L654.37 95.36 L656.05 94.64 L657.72 93.93 L659.40 93.22 L661.08 92.52 L662.75 91.81 L664.43 91.11 L666.11 90.42 L667.78 89.72 L669.46 89.03 L671.13 88.34 L672.81 87.65 L674.49 86.97 L676.16 86.28 L677.84 85.61 L679.51 84.93 L681.19 84.25 L682.87 83.58 L684.54 82.91 L686.22 82.25 L687.90 81.58 L689.57 80.92 L691.25 80.26 L692.93 79.60 L694.60 78.95 L696.28 78.29 L697.95 77.64 L699.63 76.99 L701.31 76.35 L702.98 75.70 L704.66 75.06 L706.34 74.42 L708.01 73.78 L709.69 73.15 L711.36 72.51 L713.04 71.88 L714.72 71.25 L716.39 70.62 L718.07 70.00 L719.74 69.37 L721.42 68.75 L723.10 68.13 L724.77 67.51 L726.45 66.89 L728.13 66.28 L729.80 65.67 L731.48 65.06 L733.16 64.45 L734.83 63.84 L736.51 63.23 L738.18 62.63 L739.86 62.03 L741.54 61.43 L743.21 60.83 L744.89 60.23 L746.56 59.63 L748.24 59.04 L749.92 58.45 L751.59 57.86 L753.27 57.27 L754.95 56.68 L756.62 56.09 L758.30 55.51 L759.98 54.92 L761.65 54.34 L763.33 53.76 L765.00 53.18 L766.68 52.60 L768.36 52.03 L770.03 51.45 L771.71 50.88 L773.38 50.31 L775.06 49.74 L776.74 49.17 L778.41 48.60 L780.09 48.03 L781.77 47.47 L783.44 46.90 L785.12 46.34 L786.80 45.78 L788.47 45.22 L790.15 44.66 L791.82 44.10 L793.50 43.54 " stroke="#ff1010" stroke-width="1.2" stroke-dasharray="6 5"/>
<path d="M151.50 513.50 L153.17 510.45 L154.85 507.43 L156.52 504.44 L158.20 501.47 L159.88 498.53 L161.55 495.62 L163.23 492.73 L164.91 489.87 L166.58 487.04 L168.26 484.23 L169.94 481.45 L171.61 478.70 L173.29 475.97 L174.96 473.26 L176.64 470.58 L178.32 467.92 L179.99 465.29 L181.67 462.68 L183.34 460.10 L185.02 457.53 L186.70 454.99 L188.37 452.48 L190.05 449.98 L191.73 447.51 L193.40 445.06 L195.08 442.63 L196.76 440.23 L198.43 437.84 L200.11 435.48 L201.78 433.13 L203.46 430.81 L205.14 428.51 L206.81 426.23 L208.49 423.96 L210.17 421.72 L211.84 419.50 L213.52 417.29 L215.19 415.11 L216.87 412.94 L218.55 410.80 L220.22 408.67 L221.90 406.56 L223.57 404.46 L225.25 402.39 L226.93 400.33 L228.60 398.29 L230.28 396.27 L231.96 394.27 L233.63 392.28 L235.31 390.31 L236.99 388.35 L238.66 386.41 L240.34 384.49 L242.01 382.59 L243.69 380.69 L245.37 378.82 L247.04 376.96 L248.72 375.12 L250.39 373.29 L252.07 371.47 L253.75 369.68 L255.42 367.89 L257.10 366.12 L258.78 364.37 L260.45 362.63 L262.13 360.90 L263.81 359.19 L265.48 357.49 L267.16 355.80 L268.83 354.13 L270.51 352.47 L272.19 350.82 L273.86 349.19 L275.54 347.57 L277.21 345.96 L278.89 344.37 L280.57 342.79 L282.24 341.22 L283.92 339.66 L285.60 338.11 L287.27 336.58 L288.95 335.06 L290.63 333.55 L292.30 332.05 L293.98 330.56 L295.65 329.09 L297.33 327.62 L299.01 326.17 L300.68 324.72 L302.36 323.29 L304.03 321.87 L305.71 320.46 L307.39 319.06 L309.06 317.67 L310.74 316.29 L312.42 314.92 L314.09 313.56 L315.77 312.21 L317.45 310.87 L319.12 309.54 L320.80 308.22 L322.47 306.91 L324.15 305.61 L325.83 304.31 L327.50 303.03 L329.18 301.76 L330.85 300.49 L332.53 299.24 L334.21 297.99 L335.88 296.75 L337.56 295.52 L339.24 294.30 L340.91 293.08 L342.59 291.88 L344.27 290.68 L345.94 289.49 L347.62 288.31 L349.29 287.14 L350.97 285.97 L352.65 284.82 L354.32 283.67 L356.00 282.53 L357.67 281.39 L359.35 280.26 L361.03 279.14 L362.70 278.03 L364.38 276.93 L366.06 275.83 L367.73 274.74 L369.41 273.65 L371.09 272.58 L372.76 271.51 L374.44 270.44 L376.11 269.39 L377.79 268.34 L379.47 267.29 L381.14 266.26 L382.82 265.23 L384.50 264.20 L386.17 263.18 L387.85 262.17 L389.52 261.17 L391.20 260.17 L392.88 259.17 L394.55 258.18 L396.23 257.20 L397.90 256.23 L399.58 255.26 L401.26 254.29 L402.93 253.33 L404.61 252.38 L406.29 251.43 L407.96 250.49 L409.64 249.55 L411.32 248.62 L412.99 247.69 L414.67 246.77 L416.34 245.85 L418.02 244.94 L419.70 244.04 L421.37 243.13 L423.05 242.24 L424.72 241.35 L426.40 240.46 L428.08 239.58 L429.75 238.70 L431.43 237.83 L433.11 236.96 L434.78 236.10 L436.46 235.24 L438.14 234.38 L439.81 233.53 L441.49 232.69 L443.16 231.84 L444.84 231.01 L446.52 230.17 L448.19 229.34 L449.87 228.52 L451.54 227.70 L453.22 226.88 L454.90 226.07 L456.57 225.26 L458.25 224.46 L459.93 223.66 L461.60 222.86 L463.28 222.07 L464.96 221.28 L466.63 220.49 L468.31 219.71 L469.98 218.93 L471.66 218.15 L473.34 217.38 L475.01 216.62 L476.69 215.85 L478.36 215.09 L480.04 214.33 L481.72 213.58 L483.39 212.83 L485.07 212.08 L486.75 211.33 L488.42 210.59 L490.10 209.86 L491.78 209.12 L493.45 208.39 L495.13 207.66 L496.80 206.93 L498.48 206.21 L500.16 205.49 L501.83 204.78 L503.51 204.06 L505.18 203.35 L506.86 202.64 L508.54 201.94 L510.21 201.23 L511.89 200.53 L513.57 199.84 L515.24 199.14 L516.92 198.45 L518.60 197.76 L520.27 197.08 L521.95 196.39 L523.62 195.71 L525.30 195.03 L526.98 194.36 L528.65 193.68 L530.33 193.01 L532.00 192.34 L533.68 191.67 L535.36 191.01 L537.03 190.35 L538.71 189.69 L540.39 189.03 L542.06 188.38 L543.74 187.72 L545.41 187.07 L547.09 186.42 L548.77 185.78 L550.44 185.13 L552.12 184.49 L553.80 183.85 L555.47 183.21 L557.15 182.58 L558.83 181.94 L560.50 181.31 L562.18 180.68 L563.85 180.06 L565.53 179.43 L567.21 178.81 L568.88 178.18 L570.56 177.56 L572.23 176.95 L573.91 176.33 L575.59 175.71 L577.26 175.10 L578.94 174.49 L580.62 173.88 L582.29 173.27 L583.97 172.67 L585.65 172.06 L587.32 171.46 L589.00 170.86 L590.67 170.26 L592.35 169.66 L594.03 169.07 L595.70 168.47 L597.38 167.88 L599.05 167.29 L600.73 166.70 L602.41 166.11 L604.08 165.52 L605.76 164.94 L607.44 164.36 L609.11 163.77 L610.79 163.19 L612.47 162.61 L614.14 162.04 L615.82 161.46 L617.49 160.88 L619.17 160.31 L620.85 159.74 L622.52 159.17 L624.20 158.60 L625.87 158.03 L627.55 157.46 L629.23 156.90 L630.90 156.33 L632.58 155.77 L634.26 155.21 L635.93 154.65 L637.61 154.09 L639.29 153.53 L640.96 152.97 L642.64 152.41 L644.31 151.86 L645.99 151.31 L647.67 150.75 L649.34 150.20 L651.02 149.65 L652.69 149.10 L654.37 148.55 L656.05 148.01 L657.72 147.46 L659.40 146.91 L661.08 146.37 L662.75 145.83 L664.43 145.29 L666.11 144.74 L667.78 144.20 L669.46 143.67 L671.13 143.13 L672.81 142.59 L674.49 142.05 L676.16 141.52 L677.84 140.99 L679.51 140.45 L681.19 139.92 L682.87 139.39 L684.54 138.86 L686.22 138.33 L687.90 137.80 L689.57 137.27 L691.25 136.74 L692.93 136.22 L694.60 135.69 L696.28 135.17 L697.95 134.64 L699.63 134.12 L701.31 133.60 L702.98 133.08 L704.66 132.56 L706.34 132.04 L708.01 131.52 L709.69 131.00 L711.36 130.48 L713.04 129.97 L714.72 129.45 L716.39 128.93 L718.07 128.42 L719.74 127.91 L721.42 127.39 L723.10 126.88 L724.77 126.37 L726.45 125.86 L728.13 125.35 L729.80 124.84 L731.48 124.33 L733.16 123.82 L734.83 123.31 L736.51 122.80 L738.18 122.30 L739.86 121.79 L741.54 121.29 L743.21 120.78 L744.89 120.28 L746.56 119.77 L748.24 119.27 L749.92 118.77 L751.59 118.27 L753.27 117.77 L754.95 117.26 L756.62 116.76 L758.30 116.27 L759.98 115.77 L761.65 115.27 L763.33 114.77 L765.00 114.27 L766.68 113.78 L768.36 113.28 L770.03 112.78 L771.71 112.29 L773.38 111.79 L775.06 111.30 L776.74 110.80 L778.41 110.31 L780.09 109.82 L781.77 109.33 L783.44 108.83 L785.12 108.34 L786.80 107.85 L788.47 107.36 L790.15 106.87 L791.82 106.38 L793.50 105.89 " stroke="#1e8cff" stroke-width="1.2"/>
<path d="M183.34 513.30 L185.02 509.71 L186.70 506.15 L188.37 502.62 L190.05 499.12 L191.73 495.66 L193.40 492.23 L195.08 488.84 L196.76 485.47 L198.43 482.14 L200.11 478.84 L201.78 475.57 L203.46 472.33 L205.14 469.13 L206.81 465.95 L208.49 462.80 L210.17 459.68 L211.84 456.59 L213.52 453.53 L215.19 450.50 L216.87 447.50 L218.55 444.52 L220.22 441.57 L221.90 438.65 L223.57 435.76 L225.25 432.89 L226.93 430.05 L228.60 427.24 L230.28 424.45 L231.96 421.68 L233.63 418.95 L235.31 416.23 L236.99 413.55 L238.66 410.88 L240.34 408.24 L242.01 405.63 L243.69 403.04 L245.37 400.47 L247.04 397.92 L248.72 395.40 L250.39 392.90 L252.07 390.42 L253.75 387.97 L255.42 385.54 L257.10 383.12 L258.78 380.74 L260.45 378.37 L262.13 376.02 L263.81 373.69 L265.48 371.39 L267.16 369.10 L268.83 366.83 L270.51 364.59 L272.19 362.36 L273.86 360.16 L275.54 357.97 L277.21 355.80 L278.89 353.65 L280.57 351.52 L282.24 349.41 L283.92 347.31 L285.60 345.24 L287.27 343.18 L288.95 341.14 L290.63 339.11 L292.30 337.11 L293.98 335.12 L295.65 333.15 L297.33 331.19 L299.01 329.25 L300.68 327.33 L302.36 325.42 L304.03 323.53 L305.71 321.66 L307.39 319.80 L309.06 317.96 L310.74 316.13 L312.42 314.32 L314.09 312.52 L315.77 310.73 L317.45 308.97 L319.12 307.21 L320.80 305.47 L322.47 303.75 L324.15 302.03 L325.83 300.34 L327.50 298.65 L329.18 296.98 L330.85 295.32 L332.53 293.68 L334.21 292.05 L335.88 290.43 L337.56 288.83 L339.24 287.23 L340.91 285.65 L342.59 284.09 L344.27 282.53 L345.94 280.99 L347.62 279.46 L349.29 277.94 L350.97 276.43 L352.65 274.94 L354.32 273.45 L356.00 271.98 L357.67 270.52 L359.35 269.07 L361.03 267.63 L362.70 266.20 L364.38 264.79 L366.06 263.38 L367.73 261.98 L369.41 260.60 L371.09 259.22 L372.76 257.86 L374.44 256.50 L376.11 255.16 L377.79 253.82 L379.47 252.49 L381.14 251.18 L382.82 249.87 L384.50 248.58 L386.17 247.29 L387.85 246.01 L389.52 244.74 L391.20 243.48 L392.88 242.23 L394.55 240.99 L396.23 239.75 L397.90 238.53 L399.58 237.31 L401.26 236.10 L402.93 234.91 L404.61 233.71 L406.29 232.53 L407.96 231.36 L409.64 230.19 L411.32 229.03 L412.99 227.88 L414.67 226.74 L416.34 225.60 L418.02 224.47 L419.70 223.35 L421.37 222.24 L423.05 221.13 L424.72 220.04 L426.40 218.94 L428.08 217.86 L429.75 216.78 L431.43 215.71 L433.11 214.65 L434.78 213.59 L436.46 212.54 L438.14 211.50 L439.81 210.46 L441.49 209.43 L443.16 208.41 L444.84 207.39 L446.52 206.38 L448.19 205.38 L449.87 204.38 L451.54 203.39 L453.22 202.40 L454.90 201.42 L456.57 200.45 L458.25 199.48 L459.93 198.52 L461.60 197.56 L463.28 196.61 L464.96 195.66 L466.63 194.72 L468.31 193.79 L469.98 192.86 L471.66 191.93 L473.34 191.02 L475.01 190.10 L476.69 189.19 L478.36 188.29 L480.04 187.39 L481.72 186.50 L483.39 185.61 L485.07 184.73 L486.75 183.85 L488.42 182.98 L490.10 182.11 L491.78 181.24 L493.45 180.38 L495.13 179.53 L496.80 178.68 L498.48 177.83 L500.16 176.99 L501.83 176.16 L503.51 175.32 L505.18 174.49 L506.86 173.67 L508.54 172.85 L510.21 172.03 L511.89 171.22 L513.57 170.42 L515.24 169.61 L516.92 168.81 L518.60 168.02 L520.27 167.23 L521.95 166.44 L523.62 165.65 L525.30 164.87 L526.98 164.10 L528.65 163.32 L530.33 162.55 L532.00 161.79 L533.68 161.03 L535.36 160.27 L537.03 159.51 L538.71 158.76 L540.39 158.01 L542.06 157.27 L543.74 156.53 L545.41 155.79 L547.09 155.06 L548.77 154.32 L550.44 153.60 L552.12 152.87 L553.80 152.15 L555.47 151.43 L557.15 150.71 L558.83 150.00 L560.50 149.29 L562.18 148.58 L563.85 147.88 L565.53 147.18 L567.21 146.48 L568.88 145.79 L570.56 145.09 L572.23 144.40 L573.91 143.72 L575.59 143.03 L577.26 142.35 L578.94 141.67 L580.62 141.00 L582.29 140.32 L583.97 139.65 L585.65 138.98 L587.32 138.32 L589.00 137.65 L590.67 136.99 L592.35 136.33 L594.03 135.68 L595.70 135.02 L597.38 134.37 L599.05 133.72 L600.73 133.08 L602.41 132.43 L604.08 131.79 L605.76 131.15 L607.44 130.51 L609.11 129.88 L610.79 129.24 L612.47 128.61 L614.14 127.98 L615.82 127.35 L617.49 126.73 L619.17 126.11 L620.85 125.48 L622.52 124.87 L624.20 124.25 L625.87 123.63 L627.55 123.02 L629.23 122.41 L630.90 121.80 L632.58 121.19 L634.26 120.59 L635.93 119.98 L637.61 119.38 L639.29 118.78 L640.96 118.18 L642.64 117.59 L644.31 116.99 L645.99 116.40 L647.67 115.81 L649.34 115.22 L651.02 114.63 L652.69 114.04 L654.37 113.46 L656.05 112.87 L657.72 112.29 L659.40 111.71 L661.08 111.13 L662.75 110.55 L664.43 109.98 L666.11 109.41 L667.78 108.83 L669.46 108.26 L671.13 107.69 L672.81 107.12 L674.49 106.56 L676.16 105.99 L677.84 105.43 L679.51 104.87 L681.19 104.30 L682.87 103.74 L684.54 103.19 L686.22 102.63 L687.90 102.07 L689.57 101.52 L691.25 100.96 L692.93 100.41 L694.60 99.86 L696.28 99.31 L697.95 98.76 L699.63 98.22 L701.31 97.67 L702.98 97.13 L704.66 96.58 L706.34 96.04 L708.01 95.50 L709.69 94.96 L711.36 94.42 L713.04 93.88 L714.72 93.34 L716.39 92.81 L718.07 92.27 L719.74 91.74 L721.42 91.21 L723.10 90.68 L724.77 90.15 L726.45 89.62 L728.13 89.09 L729.80 88.56 L731.48 88.03 L733.16 87.51 L734.83 86.98 L736.51 86.46 L738.18 85.94 L739.86 85.42 L741.54 84.89 L743.21 84.37 L744.89 83.86 L746.56 83.34 L748.24 82.82 L749.92 82.30 L751.59 81.79 L753.27 81.27 L754.95 80.76 L756.62 80.25 L758.30 79.73 L759.98 79.22 L761.65 78.71 L763.33 78.20 L765.00 77.69 L766.68 77.19 L768.36 76.68 L770.03 76.17 L771.71 75.67 L773.38 75.16 L775.06 74.66 L776.74 74.15 L778.41 73.65 L780.09 73.15 L781.77 72.65 L783.44 72.15 L785.12 71.65 L786.80 71.15 L788.47 70.65 L790.15 70.15 L791.82 69.65 L793.50 69.15 " stroke="#10f000" stroke-width="1.2"/>
<path d="M176.64 512.14 L178.32 508.66 L179.99 505.22 L181.67 501.80 L183.34 498.42 L185.02 495.07 L186.70 491.76 L188.37 488.47 L190.05 485.22 L191.73 481.99 L193.40 478.80 L195.08 475.63 L196.76 472.50 L198.43 469.40 L200.11 466.32 L201.78 463.27 L203.46 460.25 L205.14 457.26 L206.81 454.30 L208.49 451.36 L210.17 448.45 L211.84 445.57 L213.52 442.72 L215.19 439.89 L216.87 437.08 L218.55 434.31 L220.22 431.55 L221.90 428.83 L223.57 426.13 L225.25 423.45 L226.93 420.80 L228.60 418.17 L230.28 415.56 L231.96 412.98 L233.63 410.42 L235.31 407.89 L236.99 405.37 L238.66 402.88 L240.34 400.42 L242.01 397.97 L243.69 395.55 L245.37 393.14 L247.04 390.76 L248.72 388.40 L250.39 386.06 L252.07 383.75 L253.75 381.45 L255.42 379.17 L257.10 376.91 L258.78 374.68 L260.45 372.46 L262.13 370.26 L263.81 368.08 L265.48 365.92 L267.16 363.77 L268.83 361.65 L270.51 359.55 L272.19 357.46 L273.86 355.39 L275.54 353.34 L277.21 351.30 L278.89 349.29 L280.57 347.29 L282.24 345.30 L283.92 343.34 L285.60 341.39 L287.27 339.46 L288.95 337.54 L290.63 335.64 L292.30 333.75 L293.98 331.88 L295.65 330.03 L297.33 328.19 L299.01 326.37 L300.68 324.56 L302.36 322.77 L304.03 320.99 L305.71 319.23 L307.39 317.48 L309.06 315.74 L310.74 314.02 L312.42 312.31 L314.09 310.62 L315.77 308.94 L317.45 307.27 L319.12 305.62 L320.80 303.98 L322.47 302.35 L324.15 300.74 L325.83 299.14 L327.50 297.55 L329.18 295.97 L330.85 294.41 L332.53 292.86 L334.21 291.32 L335.88 289.79 L337.56 288.28 L339.24 286.77 L340.91 285.28 L342.59 283.80 L344.27 282.33 L345.94 280.87 L347.62 279.43 L349.29 277.99 L350.97 276.56 L352.65 275.15 L354.32 273.74 L356.00 272.35 L357.67 270.97 L359.35 269.59 L361.03 268.23 L362.70 266.88 L364.38 265.54 L366.06 264.20 L367.73 262.88 L369.41 261.56 L371.09 260.26 L372.76 258.97 L374.44 257.68 L376.11 256.40 L377.79 255.14 L379.47 253.88 L381.14 252.63 L382.82 251.39 L384.50 250.16 L386.17 248.93 L387.85 247.72 L389.52 246.51 L391.20 245.31 L392.88 244.12 L394.55 242.94 L396.23 241.77 L397.90 240.60 L399.58 239.44 L401.26 238.29 L402.93 237.15 L404.61 236.02 L406.29 234.89 L407.96 233.77 L409.64 232.66 L411.32 231.55 L412.99 230.45 L414.67 229.36 L416.34 228.28 L418.02 227.20 L419.70 226.13 L421.37 225.07 L423.05 224.02 L424.72 222.97 L426.40 221.92 L428.08 220.89 L429.75 219.86 L431.43 218.83 L433.11 217.82 L434.78 216.81 L436.46 215.80 L438.14 214.80 L439.81 213.81 L441.49 212.83 L443.16 211.85 L444.84 210.87 L446.52 209.90 L448.19 208.94 L449.87 207.98 L451.54 207.03 L453.22 206.08 L454.90 205.14 L456.57 204.21 L458.25 203.28 L459.93 202.35 L461.60 201.44 L463.28 200.52 L464.96 199.61 L466.63 198.71 L468.31 197.81 L469.98 196.92 L471.66 196.03 L473.34 195.14 L475.01 194.26 L476.69 193.39 L478.36 192.52 L480.04 191.66 L481.72 190.80 L483.39 189.94 L485.07 189.09 L486.75 188.24 L488.42 187.40 L490.10 186.56 L491.78 185.73 L493.45 184.90 L495.13 184.07 L496.80 183.25 L498.48 182.44 L500.16 181.62 L501.83 180.81 L503.51 180.01 L505.18 179.21 L506.86 178.41 L508.54 177.62 L510.21 176.83 L511.89 176.04 L513.57 175.26 L515.24 174.48 L516.92 173.71 L518.60 172.94 L520.27 172.17 L521.95 171.41 L523.62 170.65 L525.30 169.89 L526.98 169.14 L528.65 168.39 L530.33 167.64 L532.00 166.90 L533.68 166.16 L535.36 165.43 L537.03 164.69 L538.71 163.96 L540.39 163.24 L542.06 162.51 L543.74 161.79 L545.41 161.07 L547.09 160.36 L548.77 159.65 L550.44 158.94 L552.12 158.23 L553.80 157.53 L555.47 156.83 L557.15 156.13 L558.83 155.44 L560.50 154.75 L562.18 154.06 L563.85 153.37 L565.53 152.69 L567.21 152.01 L568.88 151.33 L570.56 150.65 L572.23 149.98 L573.91 149.31 L575.59 148.64 L577.26 147.97 L578.94 147.31 L580.62 146.65 L582.29 145.99 L583.97 145.34 L585.65 144.68 L587.32 144.03 L589.00 143.38 L590.67 142.74 L592.35 142.09 L594.03 141.45 L595.70 140.81 L597.38 140.17 L599.05 139.53 L600.73 138.90 L602.41 138.27 L604.08 137.64 L605.76 137.01 L607.44 136.39 L609.11 135.76 L610.79 135.14 L612.47 134.52 L614.14 133.90 L615.82 133.29 L617.49 132.68 L619.17 132.06 L620.85 131.45 L622.52 130.85 L624.20 130.24 L625.87 129.63 L627.55 129.03 L629.23 128.43 L630.90 127.83 L632.58 127.23 L634.26 126.64 L635.93 126.04 L637.61 125.45 L639.29 124.86 L640.96 124.27 L642.64 123.68 L644.31 123.10 L645.99 122.51 L647.67 121.93 L649.34 121.35 L651.02 120.77 L652.69 120.19 L654.37 119.62 L656.05 119.04 L657.72 118.47 L659.40 117.89 L661.08 117.32 L662.75 116.75 L664.43 116.19 L666.11 115.62 L667.78 115.05 L669.46 114.49 L671.13 113.93 L672.81 113.37 L674.49 112.81 L676.16 112.25 L677.84 111.69 L679.51 111.13 L681.19 110.58 L682.87 110.02 L684.54 109.47 L686.22 108.92 L687.90 108.37 L689.57 107.82 L691.25 107.27 L692.93 106.73 L694.60 106.18 L696.28 105.64 L697.95 105.10 L699.63 104.55 L701.31 104.01 L702.98 103.47 L704.66 102.93 L706.34 102.40 L708.01 101.86 L709.69 101.32 L711.36 100.79 L713.04 100.26 L714.72 99.72 L716.39 99.19 L718.07 98.66 L719.74 98.13 L721.42 97.60 L723.10 97.08 L724.77 96.55 L726.45 96.02 L728.13 95.50 L729.80 94.98 L731.48 94.45 L733.16 93.93 L734.83 93.41 L736.51 92.89 L738.18 92.37 L739.86 91.85 L741.54 91.33 L743.21 90.82 L744.89 90.30 L746.56 89.79 L748.24 89.27 L749.92 88.76 L751.59 88.24 L753.27 87.73 L754.95 87.22 L756.62 86.71 L758.30 86.20 L759.98 85.69 L761.65 85.18 L763.33 84.68 L765.00 84.17 L766.68 83.66 L768.36 83.16 L770.03 82.65 L771.71 82.15 L773.38 81.65 L775.06 81.14 L776.74 80.64 L778.41 80.14 L780.09 79.64 L781.77 79.14 L783.44 78.64 L785.12 78.14 L786.80 77.64 L788.47 77.15 L790.15 76.65 L791.82 76.15 L793.50 75.66 " stroke="#ff1010" stroke-width="1.2"/>
</g>
<g clip-path="url(#c)">
<path d="M264.2 268.0V480.0M260.7 268.0h7M260.7 480.0h7" stroke="#ff3c3c" stroke-width="0.9" fill="none"/>
<path d="M308.3 297.7V480.0M304.8 297.7h7M304.8 480.0h7" stroke="#ff3c3c" stroke-width="0.9" fill="none"/>
<path d="M352.4 229.2V324.2M348.9 229.2h7M348.9 324.2h7" stroke="#ff3c3c" stroke-width="0.9" fill="none"/>
<path d="M396.5 209.3V282.9M393.0 209.3h7M393.0 282.9h7" stroke="#ff3c3c" stroke-width="0.9" fill="none"/>
<path d="M440.6 199.5V273.4M437.1 199.5h7M437.1 273.4h7" stroke="#ff3c3c" stroke-width="0.9" fill="none"/>
<path d="M484.7 167.4V241.0M481.2 167.4h7M481.2 241.0h7" stroke="#ff3c3c" stroke-width="0.9" fill="none"/>
<path d="M528.8 132.5V214.8M525.3 132.5h7M525.3 214.8h7" stroke="#ff3c3c" stroke-width="0.9" fill="none"/>
<path d="M572.9 93.4V263.4M569.4 93.4h7M569.4 263.4h7" stroke="#ff3c3c" stroke-width="0.9" fill="none"/>
<path d="M128.3 475.0h7" stroke="#f26e6e" stroke-width="2"/>
<path d="M172.4 475.0h7" stroke="#f26e6e" stroke-width="2"/>
<path d="M216.5 475.0h7" stroke="#f26e6e" stroke-width="2"/>
<path d="M260.7 475.0h7" stroke="#f26e6e" stroke-width="2"/>
<path d="M304.8 475.0h7" stroke="#f26e6e" stroke-width="2"/>
<circle cx="264.2" cy="309.3" r="5.45" fill="#ff0000"/>
<circle cx="308.3" cy="349.8" r="5.45" fill="#ff0000"/>
<circle cx="352.4" cy="259.7" r="5.45" fill="#ff0000"/>
<circle cx="396.5" cy="235.3" r="5.45" fill="#ff0000"/>
<circle cx="440.6" cy="226.3" r="5.45" fill="#ff0000"/>
<circle cx="484.7" cy="193.5" r="5.45" fill="#ff0000"/>
<circle cx="528.8" cy="160.4" r="5.45" fill="#ff0000"/>
<circle cx="572.9" cy="131.0" r="5.45" fill="#ff0000"/>
</g>
<g font-family="Liberation Sans, sans-serif" stroke="#fff" opacity="0.999">
<text x="241.6" y="504.2" font-size="19.8" text-anchor="start" fill="#101010" stroke-width="0.60" textLength="45.0" lengthAdjust="spacingAndGlyphs">43.5</text>
<text x="418.0" y="504.2" font-size="19.8" text-anchor="start" fill="#101010" stroke-width="0.60" textLength="45.0" lengthAdjust="spacingAndGlyphs">43.0</text>
<text x="594.5" y="504.2" font-size="19.8" text-anchor="start" fill="#101010" stroke-width="0.60" textLength="45.0" lengthAdjust="spacingAndGlyphs">42.5</text>
<text x="770.9" y="504.2" font-size="19.8" text-anchor="start" fill="#101010" stroke-width="0.60" textLength="45.0" lengthAdjust="spacingAndGlyphs">42.0</text>
<text x="73.5" y="141.1" font-size="20.6" text-anchor="start" fill="#101010" stroke-width="0.60" textLength="23.8" lengthAdjust="spacingAndGlyphs">10</text>
<path d="M99.0 127.3H107.0" stroke="#111" stroke-width="0.9" fill="none"/>
<text x="108.2" y="131.5" font-size="13.8" text-anchor="start" fill="#101010" stroke-width="0.40" textLength="8.3" lengthAdjust="spacingAndGlyphs">3</text>
<text x="73.5" y="276.7" font-size="20.6" text-anchor="start" fill="#101010" stroke-width="0.60" textLength="23.8" lengthAdjust="spacingAndGlyphs">10</text>
<path d="M99.0 262.9H107.0" stroke="#111" stroke-width="0.9" fill="none"/>
<text x="108.2" y="267.1" font-size="13.8" text-anchor="start" fill="#101010" stroke-width="0.40" textLength="8.3" lengthAdjust="spacingAndGlyphs">4</text>
<text x="73.5" y="412.2" font-size="20.6" text-anchor="start" fill="#101010" stroke-width="0.60" textLength="23.8" lengthAdjust="spacingAndGlyphs">10</text>
<path d="M99.0 398.4H107.0" stroke="#111" stroke-width="0.9" fill="none"/>
<text x="108.2" y="402.6" font-size="13.8" text-anchor="start" fill="#101010" stroke-width="0.40" textLength="8.3" lengthAdjust="spacingAndGlyphs">5</text>
<text x="345.4" y="529.9" font-size="18.7" text-anchor="start" fill="#101010" stroke-width="0.60" textLength="113.6" lengthAdjust="spacingAndGlyphs">log<tspan font-size="23.0" stroke-width="0.87">(</tspan>L<tspan font-size="23.0" stroke-width="0.87">(</tspan>Ly<tspan font-size="22" stroke-width="0.15" dx="-0.8">α</tspan><tspan font-size="23.0" stroke-width="0.87">)</tspan><tspan font-size="23.0" stroke-width="0.87">)</tspan></text>
<text x="469.6" y="529.9" font-size="18.7" text-anchor="start" fill="#101010" stroke-width="0.60" textLength="50.6" lengthAdjust="spacingAndGlyphs"><tspan font-size="23.0" stroke-width="0.87">[</tspan>ergs</text>
<text x="531.2" y="529.9" font-size="18.7" text-anchor="start" fill="#101010" stroke-width="0.60" textLength="12.4" lengthAdjust="spacingAndGlyphs">s</text>
<path d="M544.3 516.4H552.0" stroke="#111" stroke-width="0.9" fill="none"/>
<text x="553.5" y="519.6" font-size="12.4" text-anchor="start" fill="#101010" stroke-width="0.35">1</text>
<text x="562.2" y="529.9" font-size="18.7" text-anchor="start" fill="#101010" stroke-width="0.60" textLength="8.6" lengthAdjust="spacingAndGlyphs"><tspan font-size="23.0" stroke-width="0.87">]</tspan></text>
<g transform="translate(55.2,431.2) rotate(-90)">
<text x="0.4" y="0.0" font-size="19.7" text-anchor="start" fill="#101010" stroke-width="0.60" textLength="115.0" lengthAdjust="spacingAndGlyphs"><tspan font-style="italic" font-size="23">ϕ</tspan><tspan font-size="24.2" stroke-width="0.87">(</tspan>L<tspan font-size="24.2" stroke-width="0.87">)</tspan>dlog<tspan font-size="24.2" stroke-width="0.87">(</tspan>L<tspan font-size="24.2" stroke-width="0.87">)</tspan></text>
<text x="124.6" y="0.0" font-size="19.7" text-anchor="start" fill="#101010" stroke-width="0.60" textLength="8.6" lengthAdjust="spacingAndGlyphs"><tspan font-size="24.2" stroke-width="0.87">[</tspan></text>
<text x="133.4" y="0.0" font-size="19.7" text-anchor="start" fill="#101010" stroke-width="0.60" textLength="38.4" lengthAdjust="spacingAndGlyphs">Mpc</text>
<path d="M176.9 -14.6H182.7" stroke="#111" stroke-width="0.9" fill="none"/>
<text x="183.7" y="-11.0" font-size="12.6" text-anchor="start" fill="#101010" stroke-width="0.35" textLength="8.2" lengthAdjust="spacingAndGlyphs">3</text>
<text x="202.0" y="0.0" font-size="19.7" text-anchor="start" fill="#101010" stroke-width="0.60" textLength="119.5" lengthAdjust="spacingAndGlyphs"><tspan font-size="24.2" stroke-width="0.87">(</tspan>Δlog<tspan font-size="24.2" stroke-width="0.87">(</tspan>L<tspan font-size="24.2" stroke-width="0.87">)</tspan>=1<tspan font-size="24.2" stroke-width="0.87">)</tspan></text>
<path d="M323.3 -14.6H330.3" stroke="#111" stroke-width="0.9" fill="none"/>
<text x="332.9" y="-11.0" font-size="12.6" text-anchor="start" fill="#101010" stroke-width="0.35">1</text>
<text x="340.8" y="0.0" font-size="19.7" text-anchor="start" fill="#101010" stroke-width="0.60" textLength="8.6" lengthAdjust="spacingAndGlyphs"><tspan font-size="24.2" stroke-width="0.87">]</tspan></text>
</g>
<text x="158.6" y="79.0" font-size="20.0" text-anchor="start" fill="#ff2020" stroke-width="0.60" textLength="106.2" lengthAdjust="spacingAndGlyphs">1.9<tspan font-size="25.6" stroke-width="0.90" dy="1.70">&lt;</tspan><tspan dy="-1.70">z</tspan><tspan font-size="25.6" stroke-width="0.90" dy="1.70">&lt;</tspan><tspan dy="-1.70">3.8</tspan></text>
<text x="158.6" y="119.8" font-size="20.0" text-anchor="start" fill="#2088ff" stroke-width="0.60" textLength="106.2" lengthAdjust="spacingAndGlyphs">1.9<tspan font-size="25.6" stroke-width="0.90" dy="1.70">&lt;</tspan><tspan dy="-1.70">z</tspan><tspan font-size="25.6" stroke-width="0.90" dy="1.70">&lt;</tspan><tspan dy="-1.70">2.8</tspan></text>
<text x="158.6" y="160.6" font-size="20.0" text-anchor="start" fill="#20e820" stroke-width="0.60" textLength="106.2" lengthAdjust="spacingAndGlyphs">2.8<tspan font-size="25.6" stroke-width="0.90" dy="1.70">&lt;</tspan><tspan dy="-1.70">z</tspan><tspan font-size="25.6" stroke-width="0.90" dy="1.70">&lt;</tspan><tspan dy="-1.70">3.8</tspan></text>
<text x="580.8" y="353.4" font-size="12.4" text-anchor="start" fill="#101010" stroke-width="0.18" textLength="111.8" lengthAdjust="spacingAndGlyphs" word-spacing="2.0">Hayes 10 <tspan font-size="15.3" stroke-width="0.26">(</tspan>z=2.2<tspan font-size="15.3" stroke-width="0.26">)</tspan></text>
<text x="580.8" y="380.5" font-size="12.4" text-anchor="start" fill="#101010" stroke-width="0.18" textLength="167.1" lengthAdjust="spacingAndGlyphs" word-spacing="2.0">Cassata 10 <tspan font-size="15.3" stroke-width="0.26">(</tspan>1.95<tspan font-size="15.9" stroke-width="0.27" dy="1.05">&lt;</tspan><tspan dy="-1.05">z</tspan><tspan font-size="15.9" stroke-width="0.27" dy="1.05">&lt;</tspan><tspan dy="-1.05">3.00<tspan font-size="15.3" stroke-width="0.26">)</tspan></tspan></text>
<text x="580.8" y="407.6" font-size="12.4" text-anchor="start" fill="#101010" stroke-width="0.18" textLength="126.1" lengthAdjust="spacingAndGlyphs" word-spacing="2.0">Gronwall 07 <tspan font-size="15.3" stroke-width="0.26">(</tspan>z=3.1<tspan font-size="15.3" stroke-width="0.26">)</tspan></text>
<text x="580.8" y="434.7" font-size="12.4" text-anchor="start" fill="#101010" stroke-width="0.18" textLength="109.2" lengthAdjust="spacingAndGlyphs" word-spacing="2.0">Ouchi 08 <tspan font-size="15.3" stroke-width="0.26">(</tspan>z=3.1<tspan font-size="15.3" stroke-width="0.26">)</tspan></text>
<text x="580.8" y="461.8" font-size="12.4" text-anchor="start" fill="#101010" stroke-width="0.18" textLength="189.8" lengthAdjust="spacingAndGlyphs" word-spacing="2.0">van Breukelen 05 <tspan font-size="15.3" stroke-width="0.26">(</tspan>2.3<tspan font-size="15.9" stroke-width="0.27" dy="1.05">&lt;</tspan><tspan dy="-1.05">z</tspan><tspan font-size="15.9" stroke-width="0.27" dy="1.05">&lt;</tspan><tspan dy="-1.05">4.6<tspan font-size="15.3" stroke-width="0.26">)</tspan></tspan></text>
</g>
<path d="M528.8 349.7H568.2" stroke="#202020" stroke-width="0.7" stroke-dasharray="11 5.5" fill="none"/>
<path d="M528.8 376.8H568.2" stroke="#202020" stroke-width="1.0" stroke-dasharray="1 3" fill="none"/>
<path d="M528.8 403.9H568.2" stroke="#202020" stroke-width="0.7" stroke-dasharray="6 5.2" fill="none"/>
<path d="M528.8 431.0H568.2" stroke="#202020" stroke-width="0.7" stroke-dasharray="6 2.7 1.2 2.6" fill="none"/>
<path d="M528.8 458.1H568.2" stroke="#202020" stroke-width="0.7" stroke-dasharray="8 2.8 1.2 2.9 1.2 2.9 1.2 2.8" fill="none"/>
</svg>
</body></html>
